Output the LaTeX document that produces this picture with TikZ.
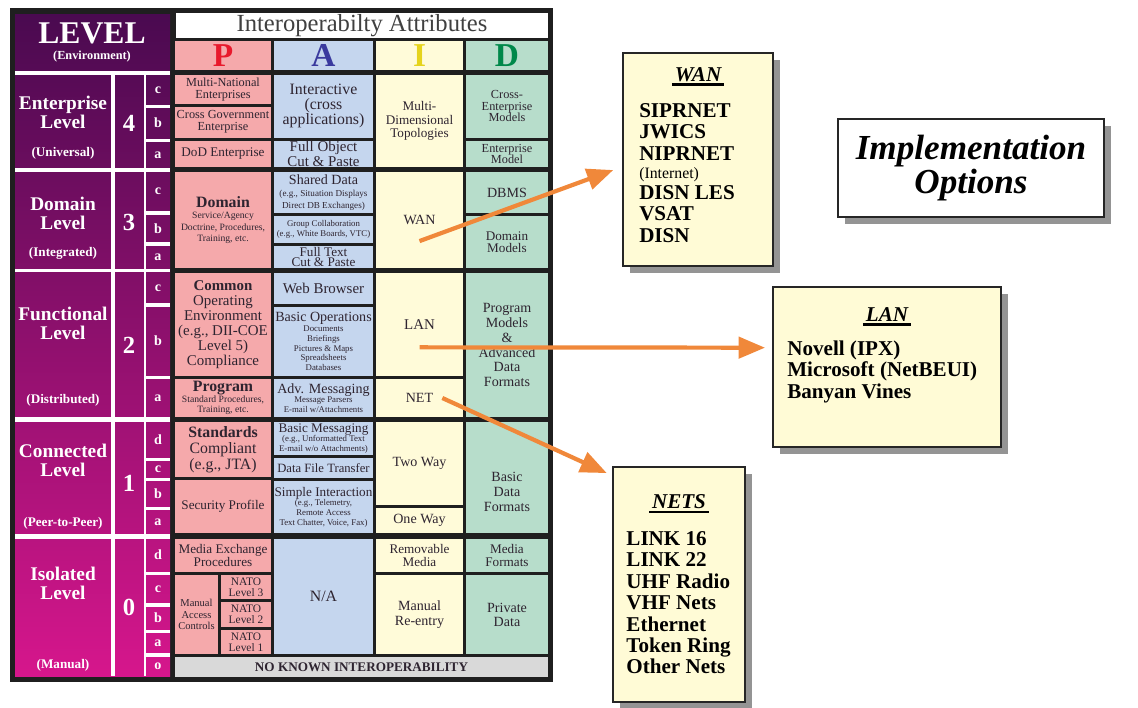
\documentclass[tikz,border=0pt]{standalone}
\usepackage{fontspec}
\setmainfont{Liberation Serif}
\usepackage{xcolor}
\usepackage{tikz}
\usetikzlibrary{positioning,calc,fit,shadows,arrows.meta}

\definecolor{pcol}{HTML}{F5A9AB}
\definecolor{acol}{HTML}{C5D6EE}
\definecolor{icol}{HTML}{FFFBD9}
\definecolor{dcol}{HTML}{B7DDCB}
\definecolor{lvtop}{HTML}{4A0A50}
\definecolor{lvbot}{HTML}{D6168C}
\definecolor{arrowor}{HTML}{F0883A}
\definecolor{noint}{HTML}{D9D9D9}
\definecolor{boxfill}{HTML}{FFFBD6}
\definecolor{celltxt}{HTML}{2E2430}
\definecolor{pred}{HTML}{E8192C}
\definecolor{ablue}{HTML}{3A3A9E}
\definecolor{iyel}{HTML}{E5D31C}
\definecolor{dgreen}{HTML}{00884A}

\newcommand{\fsz}[2]{\fontsize{#1}{#2}\selectfont}
\newcommand{\tcell}[6][]{\fill[#3] (#4) rectangle (#5);
  \node[celltext,#1] (#2) at ($(#4)!0.5!(#5)$) {#6};}

\tikzset{
  celltext/.style={inner sep=0pt, align=center, text=celltxt, font=\fsz{7}{7}},
  lvtext/.style={inner sep=0pt, align=center, text=white, font=\bfseries\fsz{11}{10.8}},
  lvsub/.style={inner sep=0pt, text=white, font=\bfseries\fsz{7.5}{7.5}},
  lvnum/.style={inner sep=0pt, text=white, font=\bfseries\fsz{14}{14}},
  lvletter/.style={inner sep=0pt, text=white, font=\bfseries\fsz{8}{8}},
  infobox/.style={draw=black!85, line width=1.1pt, fill=boxfill, inner sep=0pt,
    drop shadow={shadow xshift=4pt, shadow yshift=-4pt, fill=black!70, opacity=0.6}},
  boxtitle/.style={font=\bfseries\itshape\fsz{12}{12}, inner sep=1.5pt},
  boxlist/.style={font=\bfseries\fsz{12}{12.2}, align=left, inner sep=0pt},
  linkarrow/.style={draw=arrowor, line width=2.4pt, -{Triangle[length=15pt,width=12pt]}}
}

\begin{document}
\begin{tikzpicture}[x=0.02cm, y=-0.02cm]
  \useasboundingbox (0,0) rectangle (1138,707);

  \fill[black!88] (10,8) rectangle (553,682);
  \shade[top color=lvtop, bottom color=lvbot] (15,14) rectangle (170,676);
  \fill[white] (15,71) rectangle (170,75);
  \fill[white] (15,168) rectangle (170,171.5);
  \fill[white] (15,268.5) rectangle (170,272);
  \fill[white] (15,417) rectangle (170,422);
  \fill[white] (15,533.5) rectangle (170,538.5);
  \fill[white] (111,75) rectangle (115,676);
  \fill[white] (143.5,75) rectangle (146,676);
  \fill[white] (146,104.5) rectangle (170,107.5);
  \fill[white] (146,138.5) rectangle (170,141.5);
  \fill[white] (146,211) rectangle (170,215);
  \fill[white] (146,242.3) rectangle (170,245.7);
  \fill[white] (146,303) rectangle (170,306.7);
  \fill[white] (146,376) rectangle (170,379.3);
  \fill[white] (146,457.5) rectangle (170,460.5);
  \fill[white] (146,478) rectangle (170,481);
  \fill[white] (146,507) rectangle (170,510);
  \fill[white] (146,571.7) rectangle (170,575);
  \fill[white] (146,603.3) rectangle (170,606.7);
  \fill[white] (146,630) rectangle (170,632.7);
  \fill[white] (146,653.3) rectangle (170,656.7);

  \node[lvtext, font=\bfseries\fsz{18}{18}] (lvl) at (92,33) {LEVEL};
  \node[lvsub, font=\bfseries\fsz{7}{7}] (env) at (92,57) {(Environment)};
  \node[lvtext] (entname) at (63,112) {Enterprise\\Level};
  \node[lvsub] (entsub) at (63,153) {(Universal)};
  \node[lvnum] (entnum) at (129,123) {4};
  \node[lvtext] (domname) at (63,213) {Domain\\Level};
  \node[lvsub] (domsub) at (63,253) {(Integrated)};
  \node[lvnum] (domnum) at (129,222) {3};
  \node[lvtext] (funname) at (63,323) {Functional\\Level};
  \node[lvsub] (funsub) at (63,400) {(Distributed)};
  \node[lvnum] (funnum) at (129,345) {2};
  \node[lvtext] (conname) at (63,460) {Connected\\Level};
  \node[lvsub] (consub) at (63,523) {(Peer-to-Peer)};
  \node[lvnum] (connum) at (129,483) {1};
  \node[lvtext] (isoname) at (63,583) {Isolated\\Level};
  \node[lvsub] (isosub) at (63,665) {(Manual)};
  \node[lvnum] (isonum) at (129,607) {0};

  \node[lvletter] (ent-c) at (158,90) {c};
  \node[lvletter] (ent-b) at (158,123) {b};
  \node[lvletter] (ent-a) at (158,155) {a};
  \node[lvletter] (dom-c) at (158,191) {c};
  \node[lvletter] (dom-b) at (158,229) {b};
  \node[lvletter] (dom-a) at (158,257) {a};
  \node[lvletter] (fun-c) at (158,288) {c};
  \node[lvletter] (fun-b) at (158,341) {b};
  \node[lvletter] (fun-a) at (158,398) {a};
  \node[lvletter] (con-d) at (158,440) {d};
  \node[lvletter] (con-c) at (158,469) {c};
  \node[lvletter] (con-b) at (158,494) {b};
  \node[lvletter] (con-a) at (158,522) {a};
  \node[lvletter] (iso-d) at (158,555) {d};
  \node[lvletter] (iso-c) at (158,589) {c};
  \node[lvletter] (iso-b) at (158,618) {b};
  \node[lvletter] (iso-a) at (158,643) {a};
  \node[lvletter] (iso-o) at (158,666) {o};

  \tcell[font=\fsz{14}{14}, text=black!75]{iattr}{white}{176,13}{548,38}{Interoperabilty Attributes}
  \tcell[font=\bfseries\fsz{19}{19}, text=pred]{hp}{pcol}{175,41}{271,70}{P}
  \tcell[font=\bfseries\fsz{19}{19}, text=ablue]{ha}{acol}{274,41}{373,70}{A}
  \tcell[font=\bfseries\fsz{19}{19}, text=iyel]{hi}{icol}{376,41}{463,70}{I}
  \tcell[font=\bfseries\fsz{19}{19}, text=dgreen]{hd}{dcol}{466,41}{548,70}{D}

  \tcell{mne}{pcol}{175,75}{271,103.5}{Multi-National\\Enterprises}
  \tcell{cge}{pcol}{175,106.5}{271,137.5}{Cross Government\\Enterprise}
  \tcell[font=\fsz{7.5}{7.5}]{dode}{pcol}{175,140.5}{271,167}{DoD Enterprise}
  \tcell[font=\fsz{9}{8.5}]{inter}{acol}{274,75}{373,137.5}{Interactive\\(cross\\applications)}
  \tcell[font=\fsz{8.5}{7}]{fobj}{acol}{274,140.5}{373,167}{Full Object\\Cut \& Paste}
  \tcell[font=\fsz{7.5}{7.5}]{mdt}{icol}{376,75}{463,167}{Multi-\\Dimensional\\Topologies}
  \tcell[font=\fsz{7}{6.5}]{cem}{dcol}{466,75}{548,137.5}{Cross-\\Enterprise\\Models}
  \tcell[font=\fsz{7}{6.5}]{entm}{dcol}{466,140.5}{548,167}{Enterprise\\Model}

  \tcell[font=\fsz{5.5}{6.5}]{dom}{pcol}{175,172}{271,268}{{\bfseries\fsz{9}{9}Domain}\\Service/Agency\\Doctrine, Procedures,\\Training, etc.}
  \tcell[font=\fsz{5.2}{6.8}]{shd}{acol}{274,172}{373,213}{{\fsz{8}{8}Shared Data}\\(e.g., Situation Displays\\Direct DB Exchanges)}
  \tcell[font=\fsz{5}{5.5}]{grp}{acol}{274,216}{373,243}{Group Collaboration\\(e.g., White Boards, VTC)}
  \tcell[font=\fsz{7.5}{6.2}]{ftx}{acol}{274,246}{373,268}{Full Text\\Cut \& Paste}
  \tcell[font=\fsz{8}{8}]{wan}{icol}{376,172}{463,268}{WAN}
  \tcell[font=\fsz{8}{8}]{dbms}{dcol}{466,172}{548,213}{DBMS}
  \tcell[font=\fsz{7.5}{7}]{dmod}{dcol}{466,216}{548,268}{Domain\\Models}

  \tcell[font=\fsz{8.5}{8.5}]{coe}{pcol}{175,273}{271,376}{\bfseries Common\\Operating\\Environment\\\mdseries (e.g., DII-COE\\Level 5)\\Compliance}
  \tcell[font=\fsz{5.5}{6}]{prog}{pcol}{175,379}{271,417}{{\bfseries\fsz{9}{9}Program}\\Standard Procedures,\\Training, etc.}
  \tcell[font=\fsz{8.5}{8.5}]{web}{acol}{274,273}{373,304}{Web Browser}
  \tcell[font=\fsz{5}{5.6}]{basic}{acol}{274,307}{373,376}{{\fsz{8}{8}Basic Operations}\\Documents\\Briefings\\Pictures \& Maps\\Spreadsheets\\Databases}
  \tcell[font=\fsz{5}{5.6}]{adv}{acol}{274,379}{373,417}{{\fsz{8}{8}Adv. Messaging}\\Message Parsers\\E-mail w/Attachments}
  \tcell[font=\fsz{8.5}{8.5}]{lan}{icol}{376,273}{463,376}{LAN}
  \tcell[font=\fsz{8}{8}]{net}{icol}{376,379}{463,417}{NET}
  \tcell[font=\fsz{8}{8.5}]{pmadf}{dcol}{466,273}{548,417}{Program\\Models\\\&\\Advanced\\Data\\Formats}

  \tcell[font=\fsz{9}{9}]{stdc}{pcol}{175,422}{271,477}{\bfseries Standards\\Compliant\\\mdseries (e.g., JTA)}
  \tcell[font=\fsz{7.5}{7.5}]{secp}{pcol}{175,480}{271,533}{Security Profile}
  \tcell[font=\fsz{5}{5.2}]{bmsg}{acol}{274,422}{373,455}{{\fsz{7.5}{7.5}Basic Messaging}\\(e.g., Unformatted Text\\E-mail w/o Attachments)}
  \tcell[font=\fsz{7.2}{7.2}]{dft}{acol}{274,458}{373,478}{Data File Transfer}
  \tcell[font=\fsz{5}{5.5}]{simp}{acol}{274,481}{373,533}{{\fsz{7.5}{7.5}Simple Interaction}\\(e.g., Telemetry,\\Remote Access\\Text Chatter, Voice, Fax)}
  \tcell[font=\fsz{8}{8}]{twoway}{icol}{376,422}{463,505}{Two Way}
  \tcell[font=\fsz{8}{8}]{oneway}{icol}{376,508}{463,533}{One Way}
  \tcell[font=\fsz{8}{8.5}, yshift=-8pt]{bdf}{dcol}{466,422}{548,533}{Basic\\Data\\Formats}

  \tcell[font=\fsz{7.5}{7.5}]{mep}{pcol}{175,539}{271,572}{Media Exchange\\Procedures}
  \tcell[font=\fsz{6}{6.5}]{mac}{pcol}{175,575}{218,654}{Manual\\Access\\Controls}
  \tcell[font=\fsz{6.5}{6.2}]{nato3}{pcol}{221,575}{271,599}{NATO\\Level 3}
  \tcell[font=\fsz{6.5}{6.2}]{nato2}{pcol}{221,602}{271,627}{NATO\\Level 2}
  \tcell[font=\fsz{6.5}{6.2}]{nato1}{pcol}{221,630}{271,654}{NATO\\Level 1}
  \tcell[font=\fsz{9}{9}]{na}{acol}{274,539}{373,654}{N/A}
  \tcell[font=\fsz{7.5}{7}]{remm}{icol}{376,539}{463,572}{Removable\\Media}
  \tcell[font=\fsz{8}{8.5}]{mre}{icol}{376,575}{463,654}{Manual\\Re-entry}
  \tcell[font=\fsz{7.5}{7}]{medf}{dcol}{466,539}{548,572}{Media\\Formats}
  \tcell[font=\fsz{8}{8}]{prd}{dcol}{466,575}{548,654}{Private\\Data}
  \tcell[font=\bfseries\fsz{7.5}{7.5}]{nki}{noint}{175,657}{548,677}{NO KNOWN INTEROPERABILITY}

  \node[infobox, fit={(623,53) (773,266)}] (wanbox) {};
  \node[boxtitle, below=7pt of wanbox.north] (wantitle) {WAN};
  \draw[line width=1.3pt] (wantitle.south west) -- (wantitle.south east);
  \node[boxlist, below right=29pt and 9.6pt of wanbox.north west] (wanlist) {SIPRNET\\JWICS\\NIPRNET\\[-2pt]{\mdseries\fsz{9}{9}(Internet)}\\DISN LES\\VSAT\\DISN};

  \node[infobox, fill=white, fit={(838,119) (1104,217)}] (implbox) {};
  \node[font=\bfseries\itshape\fsz{20}{19.5}, align=center] (impl) at (implbox.center) {Implementation\\Options};

  \node[infobox, fit={(773,287) (1001,447)}] (lanbox) {};
  \node[boxtitle, below=10.5pt of lanbox.north] (lantitle) {LAN};
  \draw[line width=1.3pt] (lantitle.south west) -- (lantitle.south east);
  \node[boxlist, below right=31pt and 8.5pt of lanbox.north west] (lanlist) {Novell (IPX)\\Microsoft (NetBEUI)\\Banyan Vines};

  \node[infobox, fit={(613,467) (745,702)}] (netsbox) {};
  \node[boxtitle, below=14.5pt of netsbox.north] (netstitle) {NETS};
  \draw[line width=1.3pt] (netstitle.south west) -- (netstitle.south east);
  \node[boxlist, below right=37pt and 8pt of netsbox.north west] (netslist) {LINK 16\\LINK 22\\UHF Radio\\VHF Nets\\Ethernet\\Token Ring\\Other Nets};

  \coordinate (wanfrom) at ([yshift=-12pt]wan.center);
  \coordinate (wanto) at ([xshift=-5pt,yshift=-6pt]wanbox.west);
  \coordinate (lanfrom) at ([yshift=-13pt]lan.center);
  \coordinate (lanto) at ([xshift=-4pt,yshift=11pt]lanbox.west);
  \coordinate (netfrom) at ([xshift=13pt]net.center);
  \coordinate (netto) at ([xshift=-3pt,yshift=-4pt]netsbox.north west);
  \draw[linkarrow] (wanfrom) -- (wanto);
  \draw[linkarrow] (lanfrom) -- (lanto);
  \draw[linkarrow] (netfrom) -- (netto);
\end{tikzpicture}
\end{document}
